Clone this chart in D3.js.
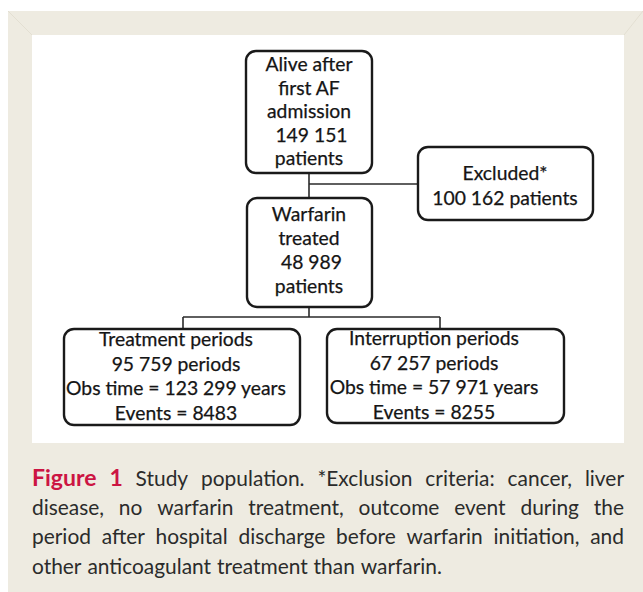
<!DOCTYPE html>
<html><head><meta charset="utf-8">
<script src="https://cdn.jsdelivr.net/npm/d3@7"></script>
<style>
html,body{margin:0;padding:0;background:#fff;}
svg{display:block;}
text{white-space:pre;}
</style></head><body>
<svg id="fig" width="643" height="592"></svg>
<script>
/* ---------- data ---------- */
const patients     = [149151, 100162, 48989];        // alive, excluded, warfarin treated
const periodNames  = ["Treatment periods", "Interruption periods"];
const periodCounts = [95759, 67257];
const obsYears     = [123299, 57971];
const eventCounts  = [8483, 8255];
const captionHead  = ["Figure", "1"];
const captionLines = [
  "Study population. *Exclusion criteria: cancer, liver",
  "disease, no warfarin treatment, outcome event during the",
  "period after hospital discharge before warfarin initiation, and",
  "other anticoagulant treatment than warfarin."
];

/* ---------- helpers ---------- */
const fmt = n => n >= 10000 ? d3.format(",")(n).replace(/,/g, " ") : String(n);
const svg = d3.select("#fig");
const BOXFONT = "Lato, 'Open Sans', sans-serif";
const CAPFONT = "Lato, 'Noto Sans', sans-serif";

function measure(str, size, weight, fam){
  const t = svg.append("text").attr("font-family", fam).attr("font-size", size)
    .attr("font-weight", weight || "normal").text(str);
  const w = t.node().getComputedTextLength();
  t.remove();
  return w;
}

/* ---------- panel ---------- */
svg.append("rect").attr("x", 8).attr("y", 11).attr("width", 635).attr("height", 581).attr("fill", "#eeebe1");
svg.append("rect").attr("x", 32).attr("y", 35).attr("width", 592).attr("height", 408).attr("fill", "#fff");
svg.append("line").attr("x1", 8).attr("y1", 11).attr("x2", 32).attr("y2", 35).attr("stroke", "#e3dfd2");
svg.append("line").attr("x1", 643).attr("y1", 11).attr("x2", 624).attr("y2", 35).attr("stroke", "#e3dfd2");

/* ---------- boxes ---------- */
const boxes = [
  {id:"alive", x:246, y:51,  w:126, h:122, cx:309, y0:71,  lh:23.6,
   lines:["Alive after", "first AF", "admission", " " + fmt(patients[0]), "patients"]},
  {id:"excl",  x:418, y:147, w:175, h:73,  cx:505, y0:180, lh:25,
   lines:["Excluded*", fmt(patients[1]) + " patients"]},
  {id:"warf",  x:247, y:198, w:125, h:109, cx:309, y0:221, lh:24,
   lines:["Warfarin", "treated", " " + fmt(patients[2]), "patients"]},
  {id:"treat", x:64,  y:329, w:236, h:96,  cx:176, y0:346, lh:24.6,
   lines:[periodNames[0], fmt(periodCounts[0]) + " periods",
          "Obs time = " + fmt(obsYears[0]) + " years", "Events = " + eventCounts[0]]},
  {id:"inter", x:327, y:329, w:237, h:94,  cx:434, y0:345, lh:24.5,
   lines:[periodNames[1], fmt(periodCounts[1]) + " periods",
          "Obs time = " + fmt(obsYears[1]) + " years", "Events = " + eventCounts[1]]}
];

// fit font so the longest box line matches the reference width
const boxSize = 20 * 220 / measure(boxes[3].lines[2], 20, "normal", BOXFONT);

/* ---------- connectors ---------- */
const conn = [
  [[309,173],[309,198]],
  [[309,184],[418,184]],
  [[309,307],[309,317]],
  [[183,317],[440,317]],
  [[183,317],[183,329]],
  [[440,317],[440,329]]
];
svg.append("g").selectAll("path").data(conn).join("path")
  .attr("d", d3.line())
  .attr("fill", "none").attr("stroke", "#2a2a2a").attr("stroke-width", 1.6);

const g = svg.append("g").selectAll("g").data(boxes).join("g");
g.append("rect")
  .attr("x", d => d.x).attr("y", d => d.y).attr("width", d => d.w).attr("height", d => d.h)
  .attr("rx", 10).attr("ry", 10)
  .attr("fill", "#fff").attr("stroke", "#1a1a1a").attr("stroke-width", 2.4);
g.each(function(b){
  d3.select(this).selectAll("text").data(b.lines).join("text")
    .attr("x", b.cx).attr("y", (d, i) => b.y0 + i * b.lh)
    .attr("text-anchor", "middle")
    .attr("font-family", BOXFONT).attr("font-size", boxSize)
    .attr("fill", "#151515").attr("stroke", "#151515").attr("stroke-width", 0.25)
    .text(d => d);
});

/* ---------- caption (justified) ---------- */
const capSize = 19 * 407 / measure(captionLines[3], 19, "normal", CAPFONT);
const headSize = capSize * 1.1;
const capL = 32, capR = 624, capY0 = 486, capLH = 29.2;
const cap = svg.append("g").attr("font-family", CAPFONT);

captionLines.forEach((line, li) => {
  let words = line.split(" ").map(t => ({t, bold:false}));
  if (li === 0) words = captionHead.map(t => ({t, bold:true})).concat(words);
  words.forEach(w => w.w = w.bold ? measure(w.t, headSize, "bold", CAPFONT)
                                  : measure(w.t, capSize, "normal", CAPFONT));
  const total = d3.sum(words, w => w.w);
  const last = li === captionLines.length - 1;
  const gap = last ? measure(" ", capSize, "normal", CAPFONT) * 1.1
                   : (capR - capL - total) / (words.length - 1);
  let x = capL;
  words.forEach(w => {
    cap.append("text").attr("x", x).attr("y", capY0 + li * capLH)
      .attr("font-size", w.bold ? headSize : capSize)
      .attr("font-weight", w.bold ? "bold" : "normal")
      .attr("fill", w.bold ? "#cc1543" : "#2b2b2b")
      .text(w.t);
    x += w.w + gap;
  });
});
</script>
</body></html>
